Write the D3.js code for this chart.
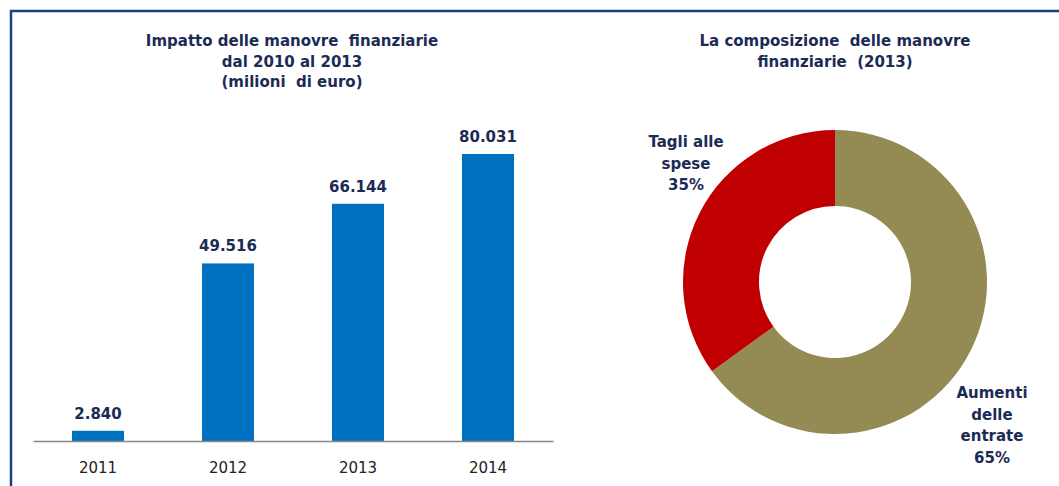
<!DOCTYPE html>
<html>
<head>
<meta charset="utf-8">
<script src="https://cdn.jsdelivr.net/npm/d3@7"></script>
<style>
  body { margin: 0; background: #fff; }
  text { font-family: "DejaVu Sans", Verdana, sans-serif; white-space: pre; }
</style>
</head>
<body>
<div id="chart"></div>
<script>
let width = 1059;
let height = 486;

// Bar chart data
const years = ["2011", "2012", "2013", "2014"];
const impatto = [2840, 49516, 66144, 80031];
const impattoLabels = ["2.840", "49.516", "66.144", "80.031"];

// Donut data
const voci = ["Aumenti delle entrate", "Tagli alle spese"];
const quote = [65, 35];
const vociLabels = [["Aumenti", "delle", "entrate", "65%"], ["Tagli alle", "spese", "35%"]];

const titleBar = ["Impatto delle manovre  finanziarie", "dal 2010 al 2013", "(milioni  di euro)"];
const titlePie = ["La composizione  delle manovre", "finanziarie  (2013)"];

const navy = "#1c2b55";

let svg = d3.select("#chart").append("svg")
  .attr("width", width)
  .attr("height", height);

// frame
svg.append("path")
  .attr("d", "M11," + height + " V11 H" + width)
  .attr("fill", "none")
  .attr("stroke", "#1f3c88")
  .attr("stroke-width", 2.5);

// ---- bar chart ----
var x = d3.scaleBand()
  .domain(years)
  .range([33, 553])
  .paddingInner(0.6)
  .paddingOuter(0.3);

var y = d3.scaleLinear()
  .domain([0, 80031])
  .range([441, 154]);

svg.append("g")
  .selectAll("text")
  .data(titleBar)
  .enter().append("text")
  .attr("x", 292)
  .attr("y", (d, i) => 46 + i * 20.5)
  .attr("text-anchor", "middle")
  .attr("font-size", 15)
  .attr("font-weight", "bold")
  .attr("fill", navy)
  .text(d => d);

svg.append("g")
  .selectAll("rect")
  .data(impatto)
  .enter().append("rect")
  .attr("x", (d, i) => x(years[i]))
  .attr("y", d => y(d))
  .attr("width", x.bandwidth())
  .attr("height", d => y(0) - y(d))
  .attr("fill", "#0070c0");

svg.append("g")
  .selectAll("text")
  .data(impatto)
  .enter().append("text")
  .attr("x", (d, i) => x(years[i]) + x.bandwidth() / 2)
  .attr("y", d => y(d) - 12)
  .attr("text-anchor", "middle")
  .attr("font-size", 15)
  .attr("font-weight", "bold")
  .attr("fill", navy)
  .text((d, i) => impattoLabels[i]);

// x axis
var xAxis = svg.append("g")
  .attr("transform", "translate(0," + y(0) + ")")
  .call(d3.axisBottom(x).tickSize(0).tickPadding(21));
xAxis.select(".domain").attr("stroke", "#888").attr("stroke-width", 1.5);
xAxis.selectAll("text")
  .attr("font-size", 15)
  .attr("fill", "#222")
  .style("font-family", "DejaVu Sans, Verdana, sans-serif");

// ---- donut ----
var cx = 835, cy = 282;
var pie = d3.pie().sort(null);
var arc = d3.arc().innerRadius(76).outerRadius(152);
var color = d3.scaleOrdinal().domain(voci).range(["#948a54", "#c00000"]);

svg.append("g")
  .selectAll("text")
  .data(titlePie)
  .enter().append("text")
  .attr("x", cx)
  .attr("y", (d, i) => 46 + i * 20.5)
  .attr("text-anchor", "middle")
  .attr("font-size", 15)
  .attr("font-weight", "bold")
  .attr("fill", navy)
  .text(d => d);

svg.append("g")
  .attr("transform", "translate(" + cx + "," + cy + ")")
  .selectAll("path")
  .data(pie(quote))
  .enter().append("path")
  .attr("d", arc)
  .attr("fill", (d, i) => color(voci[i]));

// slice labels
var labelPos = [[992, 398], [686, 147]];
vociLabels.forEach(function (lines, i) {
  svg.append("text")
    .attr("text-anchor", "middle")
    .attr("font-size", 15)
    .attr("font-weight", "bold")
    .attr("fill", navy)
    .selectAll("tspan")
    .data(lines)
    .enter().append("tspan")
    .attr("x", labelPos[i][0])
    .attr("y", (d, j) => labelPos[i][1] + j * 21.5)
    .text(d => d);
});
</script>
</body>
</html>
